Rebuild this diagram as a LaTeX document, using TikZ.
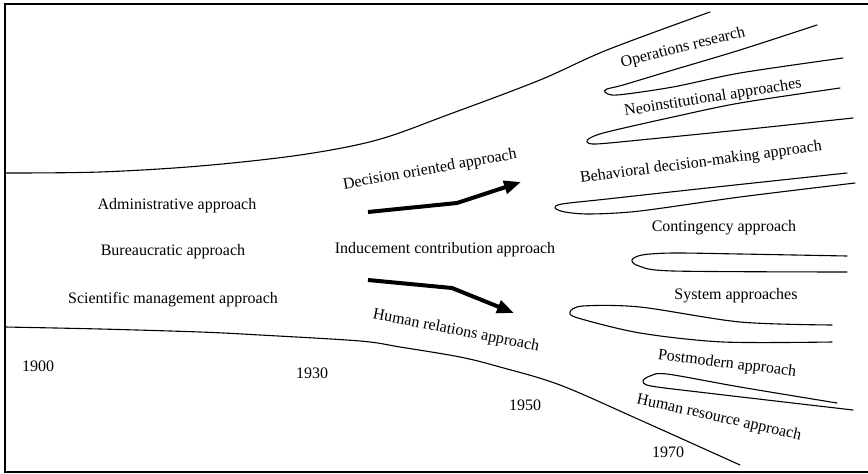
\documentclass[tikz,border=0pt]{standalone}
\usepackage{fontspec}
\setmainfont{Liberation Serif}
\usetikzlibrary{arrows.meta}
\tikzset{
  lbl/.style={inner sep=0pt, font=\fontsize{16}{19}\selectfont},
  edge/.style={line width=1.1pt, line join=round, line cap=round},
  frame/.style={line width=1.4pt},
  trend/.style={line width=4pt, line join=round, -{Triangle[length=17pt,width=13pt]}},
}
\begin{document}
\begin{tikzpicture}[x=1pt,y=-1pt]
\useasboundingbox (0,0) rectangle (868,474);

% open frame: top, left, bottom
\draw[frame] (868,4) -- (5,4) -- (5,472) -- (868,472);

% outer boundaries of the field
\draw[edge] plot[smooth, tension=0.55] coordinates {(5,173) (100,172) (200,166) (300,155) (377,140) (450,114) (540,80) (607,50) (710,12)};
\draw[edge] plot[smooth, tension=0.55] coordinates {(5,327) (100,329) (200,332) (260,335) (360,341) (400,347) (460,357) (500,367) (560,385) (640,420) (740,465)};

% lobes separating the later approaches
\draw[edge] plot[smooth, tension=0.5] coordinates {(817,25) (740,50) (673,70) (623,85) (607,89) (605,92) (617,95) (673,87) (740,73) (843,58)};
\draw[edge] plot[smooth, tension=0.5] coordinates {(840,88) (740,103) (673,117) (607,132) (590,138) (587,142) (596,144) (640,140) (740,130) (853,118)};
\draw[edge] plot[smooth, tension=0.5] coordinates {(847,173) (707,188) (607,199) (562,204) (555,208) (565,212) (590,214) (640,211) (740,197) (855,183)};
\draw[edge] plot[smooth, tension=0.5] coordinates {(847,256) (740,254) (673,253) (642,255) (632,260) (639,266) (673,271) (847,272)};
\draw[edge] plot[smooth, tension=0.5] coordinates {(832,325) (740,322) (640,307) (583,306) (570,312) (578,318) (640,333) (723,342) (832,342)};
\draw[edge] plot[smooth, tension=0.5] coordinates {(837,403) (740,387) (667,374) (650,376) (643,381) (651,386) (707,393) (853,410)};

% early approaches
\node[lbl] (adm) at (177,206) {Administrative approach};
\node[lbl] (bur) at (173,252) {Bureaucratic approach};
\node[lbl] (sci) at (173,300) {Scientific management approach};

% middle period
\node[lbl, rotate=10] (dec) at (430,170) {Decision oriented approach};
\node[lbl] (ind) at (445,250) {Inducement contribution approach};
\node[lbl, rotate=-11] (hum) at (456,331) {Human relations approach};

% later approaches
\node[lbl, rotate=14] (ops) at (683,48) {Operations research};
\node[lbl, rotate=9] (neo) at (713,98) {Neoinstitutional approaches};
\node[lbl, rotate=7.5] (beh) at (701,163) {Behavioral decision-making approach};
\node[lbl] (con) at (724,228) {Contingency approach};
\node[lbl] (sys) at (736,296) {System approaches};
\node[lbl, rotate=-7] (pom) at (727,364) {Postmodern approach};
\node[lbl, rotate=-12.5] (hra) at (719,418) {Human resource approach};

% years
\node[lbl] (y1900) at (38,366) {1900};
\node[lbl] (y1930) at (312,373) {1930};
\node[lbl] (y1950) at (525,405) {1950};
\node[lbl] (y1970) at (668,452) {1970};

% trend arrows
\coordinate (upA) at (368,212);
\coordinate (upB) at (457,203);
\coordinate (upC) at (521,182);
\coordinate (dnA) at (368,280);
\coordinate (dnB) at (452,288);
\coordinate (dnC) at (514,313);
\draw[trend] (upA) -- (upB) -- (upC);
\draw[trend] (dnA) -- (dnB) -- (dnC);
\end{tikzpicture}
\end{document}
